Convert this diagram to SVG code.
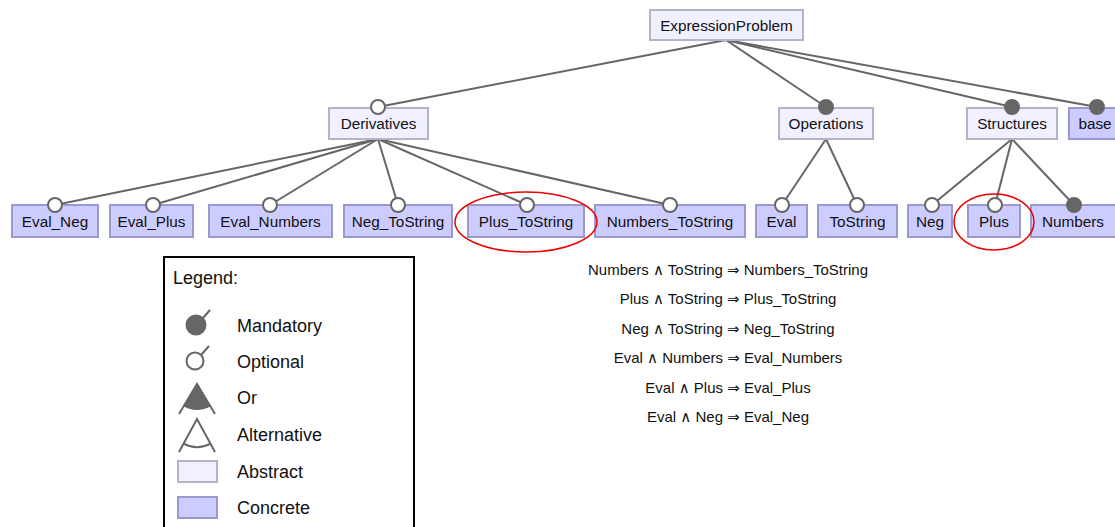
<svg xmlns="http://www.w3.org/2000/svg" width="1115" height="527" viewBox="0 0 1115 527">
<style>
.abs{fill:#f0f0ff;stroke:#b4b4c8;stroke-width:2}
.con{fill:#ccccff;stroke:#9999cc;stroke-width:2}
.lbl{font-family:"Liberation Sans",Arial,sans-serif;font-size:15.3px;fill:#111;text-anchor:middle}
.edge{stroke:#666;stroke-width:2;fill:none}
.opt{fill:#fff;stroke:#666;stroke-width:2}
.man{fill:#666;stroke:#666;stroke-width:2}
.cst{font-family:"Liberation Sans","DejaVu Sans",Arial,sans-serif;font-size:15px;fill:#111;text-anchor:middle}
.leg{font-family:"Liberation Sans",Arial,sans-serif;font-size:18px;fill:#111}
.hl{fill:none;stroke:#e00;stroke-width:1.5}
</style>
<rect width="1115" height="527" fill="#fff"/>
<g id="connectors">
<line class="edge" x1="726" y1="40" x2="378" y2="107"/>
<line class="edge" x1="726" y1="40" x2="826" y2="107"/>
<line class="edge" x1="726" y1="40" x2="1012" y2="107"/>
<line class="edge" x1="726" y1="40" x2="1097" y2="107"/>
<line class="edge" x1="378" y1="139" x2="55" y2="205"/>
<line class="edge" x1="378" y1="139" x2="153" y2="205"/>
<line class="edge" x1="378" y1="139" x2="270" y2="205"/>
<line class="edge" x1="378" y1="139" x2="398" y2="205"/>
<line class="edge" x1="378" y1="139" x2="527" y2="205"/>
<line class="edge" x1="378" y1="139" x2="670" y2="205"/>
<line class="edge" x1="826" y1="139" x2="782" y2="205"/>
<line class="edge" x1="826" y1="139" x2="857" y2="205"/>
<line class="edge" x1="1012" y1="139" x2="932" y2="205"/>
<line class="edge" x1="1012" y1="139" x2="995" y2="205"/>
<line class="edge" x1="1012" y1="139" x2="1074" y2="205"/>
</g>
<g id="ExpressionProblem"><rect class="abs" x="650" y="10" width="153" height="30"/><text class="lbl" x="726.5" y="30.5">ExpressionProblem</text></g>
<g id="Derivatives"><rect class="abs" x="329" y="108" width="99" height="31"/><text class="lbl" x="378.5" y="129">Derivatives</text><circle class="opt" cx="378" cy="107" r="7"/></g>
<g id="Operations"><rect class="abs" x="779" y="108" width="94" height="31"/><text class="lbl" x="826" y="129">Operations</text><circle class="man" cx="826" cy="107" r="7"/></g>
<g id="Structures"><rect class="abs" x="967" y="108" width="90" height="31"/><text class="lbl" x="1012" y="129">Structures</text><circle class="man" cx="1012" cy="107" r="7"/></g>
<g id="base"><rect class="con" x="1069" y="108" width="54" height="31"/><text class="lbl" x="1095" y="129">base</text><circle class="man" cx="1097" cy="107" r="7"/></g>
<g id="Eval_Neg"><rect class="con" x="12" y="205" width="86" height="32"/><text class="lbl" x="55" y="226.5">Eval_Neg</text><circle class="opt" cx="55" cy="205" r="7"/></g>
<g id="Eval_Plus"><rect class="con" x="110" y="205" width="83" height="32"/><text class="lbl" x="151.5" y="226.5">Eval_Plus</text><circle class="opt" cx="153" cy="205" r="7"/></g>
<g id="Eval_Numbers"><rect class="con" x="209" y="205" width="123" height="32"/><text class="lbl" x="270.5" y="226.5">Eval_Numbers</text><circle class="opt" cx="270" cy="205" r="7"/></g>
<g id="Neg_ToString"><rect class="con" x="344" y="205" width="108" height="32"/><text class="lbl" x="398" y="226.5">Neg_ToString</text><circle class="opt" cx="398" cy="205" r="7"/></g>
<g id="Plus_ToString"><rect class="con" x="468" y="205" width="116" height="32"/><text class="lbl" x="526" y="226.5">Plus_ToString</text><circle class="opt" cx="527" cy="205" r="7"/></g>
<g id="Numbers_ToString"><rect class="con" x="595" y="205" width="150" height="32"/><text class="lbl" x="670" y="226.5">Numbers_ToString</text><circle class="opt" cx="670" cy="205" r="7"/></g>
<g id="Eval"><rect class="con" x="756" y="205" width="51" height="32"/><text class="lbl" x="781.5" y="226.5">Eval</text><circle class="opt" cx="782" cy="205" r="7"/></g>
<g id="ToString"><rect class="con" x="818" y="205" width="79" height="32"/><text class="lbl" x="857.5" y="226.5">ToString</text><circle class="opt" cx="857" cy="205" r="7"/></g>
<g id="Neg"><rect class="con" x="908" y="205" width="44" height="32"/><text class="lbl" x="930" y="226.5">Neg</text><circle class="opt" cx="932" cy="205" r="7"/></g>
<g id="Plus"><rect class="con" x="968" y="205" width="52" height="32"/><text class="lbl" x="994" y="226.5">Plus</text><circle class="opt" cx="995" cy="205" r="7"/></g>
<g id="Numbers"><rect class="con" x="1031" y="205" width="86" height="32"/><text class="lbl" x="1073" y="226.5">Numbers</text><circle class="man" cx="1074" cy="205" r="7"/></g>
<g id="highlights">
<ellipse class="hl" cx="526" cy="222" rx="71" ry="30"/>
<ellipse class="hl" cx="994" cy="222" rx="40" ry="28"/>
</g>
<g id="constraints">
<text class="cst" x="728" y="275">Numbers ∧ ToString ⇒ Numbers_ToString</text>
<text class="cst" x="728" y="304">Plus ∧ ToString ⇒ Plus_ToString</text>
<text class="cst" x="728" y="334">Neg ∧ ToString ⇒ Neg_ToString</text>
<text class="cst" x="728" y="363">Eval ∧ Numbers ⇒ Eval_Numbers</text>
<text class="cst" x="728" y="393">Eval ∧ Plus ⇒ Eval_Plus</text>
<text class="cst" x="728" y="422">Eval ∧ Neg ⇒ Eval_Neg</text>
</g>
<g id="legend">
<rect x="164" y="257" width="250" height="290" fill="#fff" stroke="#000" stroke-width="2"/>
<text class="leg" x="173" y="284">Legend:</text>
<circle class="man" cx="196" cy="325" r="9.5"/>
<line class="edge" x1="203" y1="318" x2="210" y2="310"/>
<text class="leg" x="237" y="332">Mandatory</text>
<circle class="opt" cx="195" cy="361" r="8.5"/>
<line class="edge" x1="201" y1="355" x2="209" y2="346"/>
<text class="leg" x="237" y="368">Optional</text>
<path d="M197,384 L183.6,406.3 A26,26 0 0 0 210.4,406.3 Z" fill="#666"/>
<path class="edge" d="M179,414 L197,384 L215,414"/>
<text class="leg" x="237" y="404">Or</text>
<path class="edge" d="M179,452 L197,419 L215,452"/>
<path class="edge" d="M183.6,443.6 A28,28 0 0 0 210.4,443.6"/>
<text class="leg" x="237" y="441">Alternative</text>
<rect class="abs" x="178" y="461" width="39" height="21"/>
<text class="leg" x="237" y="478">Abstract</text>
<rect class="con" x="178" y="497" width="39" height="21"/>
<text class="leg" x="237" y="514">Concrete</text>
</g>
</svg>
